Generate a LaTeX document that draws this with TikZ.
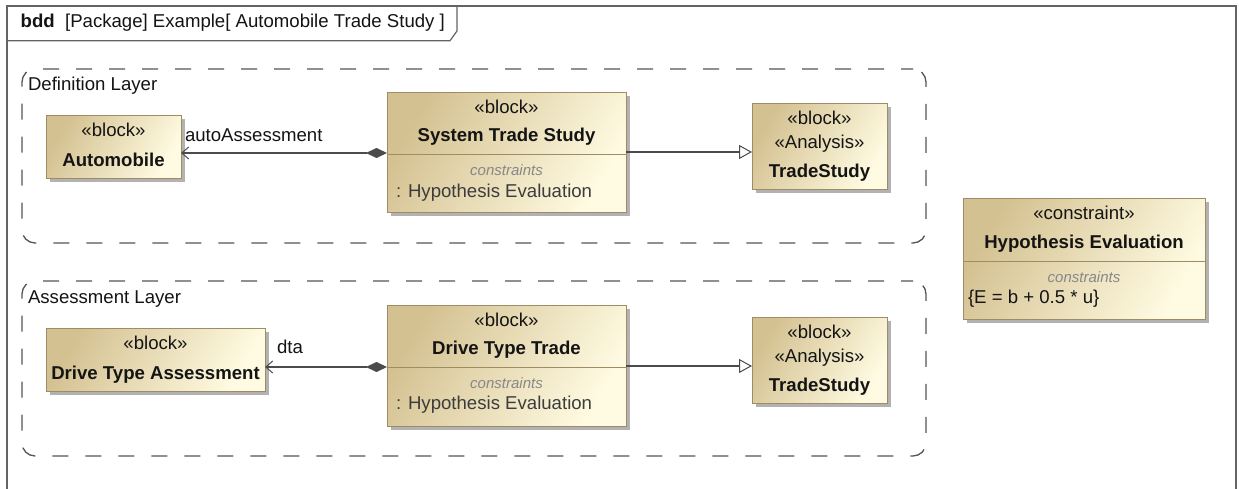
\documentclass[tikz,border=0pt]{standalone}
\usepackage{fontspec}
\setmainfont{Liberation Sans}
\usetikzlibrary{arrows.meta,shadows}
\definecolor{blkborder}{RGB}{160,140,100}
\definecolor{blkdark}{RGB}{212,193,145}
\definecolor{blklight}{RGB}{255,251,226}
\definecolor{framegray}{RGB}{100,100,100}
\definecolor{dashgray}{RGB}{85,85,85}
\definecolor{linegray}{RGB}{75,75,75}
\definecolor{cgray}{RGB}{135,135,135}
\definecolor{txtdark}{RGB}{20,20,20}
\definecolor{proptxt}{RGB}{60,60,60}
\begin{document}
\begin{tikzpicture}[x=1pt,y=-1pt,
  every node/.style={inner sep=0pt, outer sep=0pt, text=txtdark, font=\fontsize{18.6}{22}\selectfont},
  blk/.style={draw=blkborder, line width=1pt, left color=blkdark, right color=blklight, shading angle=60,
    anchor=north west, drop shadow={shadow xshift=3.5pt, shadow yshift=-3.5pt, fill=black, opacity=0.3}},
  txt/.style={anchor=base},
  ttl/.style={anchor=base, font=\fontsize{18.6}{22}\selectfont\bfseries},
  cst/.style={anchor=base, text=cgray, font=\fontsize{15}{18}\selectfont\itshape},
  prop/.style={anchor=base west, text=proptxt},
  divider/.style={draw=blkborder, line width=1pt},
  layer/.style={draw=dashgray, line width=1.3pt, rounded corners=13pt, dash pattern=on 16pt off 17pt, dash phase=4pt,
    anchor=north west},
  frame/.style={draw=framegray, line width=1.2pt},
  comp/.style={draw=linegray, line width=1.2pt,
    {Diamond[length=21pt,width=10pt,fill=linegray]}-{Straight Barb[length=7pt,width=12pt,line width=1pt]}},
  gen/.style={draw=linegray, line width=1.2pt, -{Triangle[open, length=13pt, width=14pt, fill=white, line width=1pt]}},
  lbl/.style={anchor=base west}
]
\useasboundingbox (0,0) rectangle (1239,489);
\fill[white] (0,0) rectangle (1239,489);

% outer frame and header tab
\draw[frame] (7,489) -- (7,6) -- (1236,6) -- (1236,489);
\draw[frame] (7,40.7) -- (450,40.7) -- (457,31) -- (457,6);
\node[anchor=base west] (hdr) at (20.7,28) {\textbf{bdd}\ \ [Package] Example[ Automobile Trade Study ]};

% layers
\node[layer, minimum width=904pt, minimum height=174pt] (deflayer) at (22,69) {};
\node[lbl] (deflbl) at (28,91) {Definition Layer};
\node[layer, minimum width=904pt, minimum height=175pt] (asslayer) at (22,281) {};
\node[lbl] (asslbl) at (28,303) {Assessment Layer};

% ---------- Definition layer blocks
\node[blk, minimum width=135pt, minimum height=63pt] (auto) at (46,116) {};
\node[txt] (autos) at (113.5,137) {«block»};
\node[ttl] (auton) at (113.5,167) {Automobile};

\node[blk, minimum width=239pt, minimum height=120pt] (sts) at (387,93) {};
\draw[divider] (sts.west |- 0,155) -- (sts.east |- 0,155);
\node[txt] (stss) at (506.5,114) {«block»};
\node[ttl] (stsn) at (506.5,142) {System Trade Study};
\node[cst] (stsc) at (506.5,176) {constraints};
\node[prop] (stsp) at (396,197) {: Hypothesis Evaluation};

\node[blk, minimum width=135pt, minimum height=86pt] (tsa) at (752,104) {};
\node[txt] (tsas) at (819.5,125) {«block»};
\node[txt] (tsaa) at (819.5,149) {«Analysis»};
\node[ttl] (tsan) at (819.5,178) {TradeStudy};

% ---------- Assessment layer blocks
\node[blk, minimum width=219pt, minimum height=63pt] (dta) at (46,328) {};
\node[txt] (dtas) at (155.5,349) {«block»};
\node[ttl] (dtan) at (155.5,379) {Drive Type Assessment};

\node[blk, minimum width=239pt, minimum height=121pt] (dtt) at (387,305) {};
\draw[divider] (dtt.west |- 0,367) -- (dtt.east |- 0,367);
\node[txt] (dtts) at (506.5,326) {«block»};
\node[ttl] (dttn) at (506.5,354) {Drive Type Trade};
\node[cst] (dttc) at (506.5,388) {constraints};
\node[prop] (dttp) at (396,409) {: Hypothesis Evaluation};

\node[blk, minimum width=135pt, minimum height=86pt] (tsb) at (752,317) {};
\node[txt] (tsbs) at (819.5,338) {«block»};
\node[txt] (tsba) at (819.5,362) {«Analysis»};
\node[ttl] (tsbn) at (819.5,391) {TradeStudy};

% ---------- Constraint block
\node[blk, minimum width=242pt, minimum height=120pt] (hyp) at (963,199) {};
\draw[divider] (hyp.west |- 0,261) -- (hyp.east |- 0,261);
\node[txt] (hyps) at (1084,219) {«constraint»};
\node[ttl] (hypn) at (1084,248) {Hypothesis Evaluation};
\node[cst] (hypc) at (1084,282) {constraints};
\node[anchor=base west] (hype) at (968,303) {\{E = b + 0.5 * u\}};

% ---------- connectors
\coordinate (ya) at (0,153);
\coordinate (yb) at (0,152);
\coordinate (yc) at (0,367);
\coordinate (yd) at (0,366);
\draw[comp] (sts.west |- ya) -- (auto.east |- ya);
\node[lbl] (l1) at (185,142) {autoAssessment};
\draw[gen] (sts.east |- yb) -- (tsa.west |- yb);
\draw[comp] (dtt.west |- yc) -- (dta.east |- yc);
\node[lbl] (l2) at (277,353) {dta};
\draw[gen] (dtt.east |- yd) -- (tsb.west |- yd);
\end{tikzpicture}
\end{document}
